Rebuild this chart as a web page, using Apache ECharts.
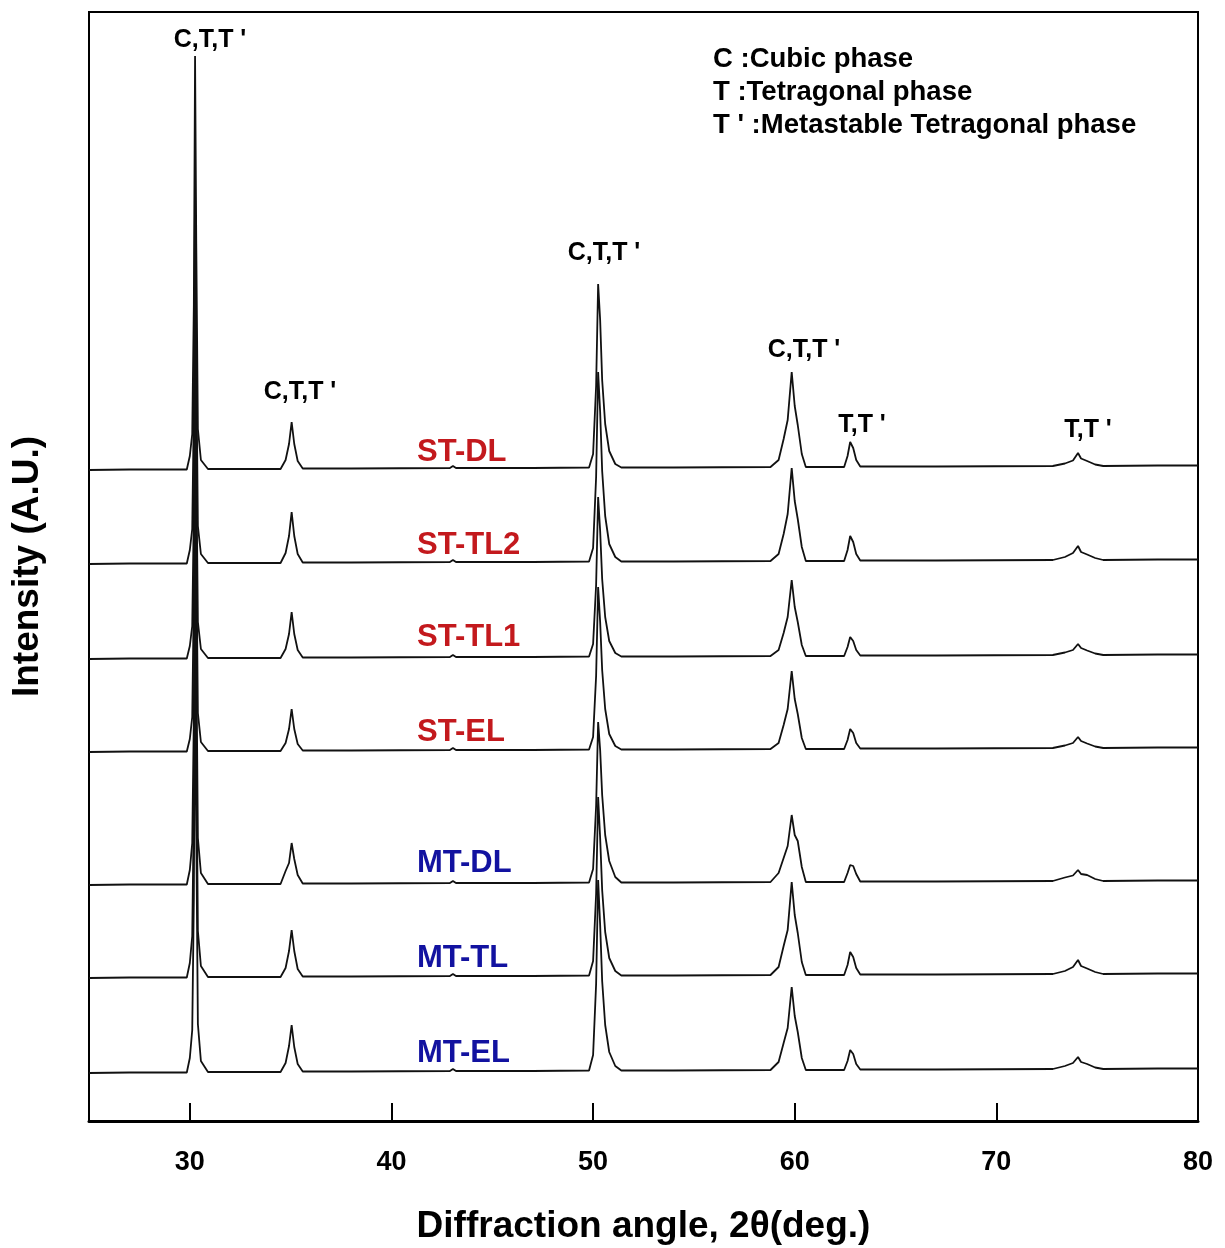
<!DOCTYPE html>
<html>
<head>
<meta charset="utf-8">
<script src="https://cdn.jsdelivr.net/npm/echarts@6/dist/echarts.min.js"></script>
<style>
  html, body { margin: 0; padding: 0; background: #fff; }
  #chart { width: 1225px; height: 1248px; }
</style>
</head>
<body>
<div id="chart"></div>
<script>
// 2θ sample positions (deg.), shared by all patterns
const twoTheta = [
  25.0, 27.0, 29.0, 29.85, 30.0, 30.12, 30.2, 30.26, 30.32, 30.4, 30.55, 30.9,
  33.0, 34.5, 34.75, 34.92, 35.05, 35.18, 35.35, 35.6,
  38.0, 42.9, 43.05, 43.2, 47.0,
  49.8, 50.0, 50.15, 50.25, 50.35, 50.45, 50.6, 50.8, 51.1, 51.4,
  54.0, 58.8, 59.2, 59.45, 59.65, 59.85, 60.0, 60.15, 60.35, 60.55,
  61.5, 62.45, 62.62, 62.75, 62.9, 63.05, 63.25,
  67.0, 72.8, 73.4, 73.8, 74.05, 74.2, 74.5, 74.9, 75.3, 78.0, 80.0
];

const sampleNames = ['ST-DL', 'ST-TL2', 'ST-TL1', 'ST-EL', 'MT-DL', 'MT-TL', 'MT-EL'];
const sampleColors = ['#c3191d', '#c3191d', '#c3191d', '#c3191d', '#1212a0', '#1212a0', '#1212a0'];
// vertical stacking offset of each pattern (a.u.)
const offsets = [651, 557, 462, 369, 236, 143, 48];

// intensity above offset (a.u.)
const stDL = [
  0, 0.5, 0.5, 0.5, 14, 36, 166, 414, 226, 41, 10, 1,
  1, 1, 10, 26, 48, 26, 9, 1.5,
  1.5, 2, 4, 2, 2,
  2.5, 16, 84, 186, 150, 90, 46, 19, 6, 2.5,
  2.5, 3, 10, 31, 50, 98, 64, 45, 16, 3,
  3, 3, 14, 28, 22, 10, 3.5,
  3.5, 4, 6.5, 9.5, 17, 11.5, 9, 5.5, 4, 4.5, 4.5
];
const stTL2 = [
  0, 0.5, 0.5, 0.5, 14, 35, 156, 376, 206, 38, 10, 1,
  1, 1, 11, 28, 52, 28, 10, 1.5,
  1.5, 2, 4, 2, 2,
  2.5, 16, 87, 192, 152, 93, 48, 20, 7, 2.5,
  2.5, 3, 10, 30, 50, 96, 63, 45, 17, 3,
  3, 3, 14, 28, 22, 10, 3.5,
  3.5, 4, 7, 11, 18, 12, 9.5, 6, 4, 4.5, 4.5
];
const stTL1 = [
  0, 0.5, 0.5, 0.5, 13, 33, 148, 359, 198, 37, 10, 1,
  1, 1, 10, 25, 47, 25, 9, 1.5,
  1.5, 2, 4, 2, 2,
  2.5, 15, 74, 162, 128, 80, 42, 18, 6, 2.5,
  2.5, 3, 9, 26, 42, 79, 52, 37, 14, 3,
  3, 3, 12, 22, 18, 9, 3.5,
  3.5, 4, 6.5, 9, 15, 11, 8.5, 5.5, 4, 4.5, 4.5
];
const stEL = [
  0, 0.5, 0.5, 0.5, 13, 35, 158, 382, 208, 39, 10, 1,
  1, 1, 9, 23, 43, 23, 8, 1.5,
  1.5, 2, 4, 2, 2,
  2.5, 15, 76, 165, 130, 82, 43, 18, 6, 2.5,
  2.5, 3, 9, 27, 43, 81, 53, 38, 14, 3,
  3, 3, 12, 23, 19, 9, 3.5,
  3.5, 4, 6.5, 9, 15, 11, 8.5, 5.5, 4, 4.5, 4.5
];
const mtDL = [
  0, 0.5, 0.5, 0.5, 15, 42, 168, 425, 238, 47, 12, 1,
  1, 1, 14, 22, 42, 26, 10, 1.5,
  1.5, 2, 4, 2, 2,
  2.5, 16, 79, 163, 135, 90, 50, 24, 8, 2.5,
  2.5, 3, 12, 27, 39, 70, 50, 44, 18, 3,
  3, 3, 12, 20, 19, 11, 3.5,
  3.5, 4, 7.5, 9.5, 15, 11, 10, 6, 4, 4.5, 4.5
];
const mtTL = [
  0, 0.5, 0.5, 0.5, 15, 42, 172, 438, 242, 47, 12, 1,
  1, 1, 10, 27, 48, 27, 9, 1.5,
  1.5, 2, 4, 2, 2,
  2.5, 17, 84, 181, 140, 88, 46, 20, 7, 2.5,
  2.5, 3, 11, 32, 48, 96, 63, 45, 16, 3,
  3, 3, 13, 26, 21, 10, 3.5,
  3.5, 4, 7, 11, 18, 12, 9.5, 6, 4, 4.5, 4.5
];
const mtEL = [
  0, 0.5, 0.5, 0.5, 15, 43, 175, 433, 242, 49, 12, 1,
  1, 1, 10, 27, 48, 26, 9, 1.5,
  1.5, 2, 4, 2, 2,
  2.5, 18, 89, 193, 148, 92, 48, 21, 7, 2.5,
  2.5, 3, 11, 30, 45, 86, 57, 41, 15, 3,
  3, 3, 12, 23, 19, 9, 3.5,
  3.5, 4, 7, 10, 16, 11, 9, 5.5, 4, 4.5, 4.5
];
const patterns = [stDL, stTL2, stTL1, stEL, mtDL, mtTL, mtEL];

const xTicks = [30, 40, 50, 60, 70, 80];

const FONT = '"Liberation Sans", Arial, sans-serif';

const chart = echarts.init(document.getElementById('chart'));

const series = patterns.map((vals, k) => ({
  name: sampleNames[k],
  type: 'line',
  showSymbol: false,
  animation: false,
  lineStyle: { color: '#111', width: 1.8 },
  data: twoTheta.map((x, i) => [x, offsets[k] + vals[i]])
}));

function txt(text, x, y, size, color, align) {
  return {
    type: 'text',
    x: x,
    y: y,
    z: 100,
    style: {
      text: text,
      font: 'bold ' + size + 'px ' + FONT,
      fill: color || '#000',
      textAlign: align || 'center',
      textVerticalAlign: 'middle'
    }
  };
}

const graphics = [
  txt("C,T,T '", 210, 40, 25),
  txt("C,T,T '", 300, 392, 25),
  txt("C,T,T '", 604, 253, 25),
  txt("C,T,T '", 804, 350, 25),
  txt("T,T '", 862, 425, 25),
  txt("T,T '", 1088, 430, 25),
  txt('C :Cubic phase', 713, 59, 27.5, '#000', 'left'),
  txt('T :Tetragonal phase', 713, 92, 27.5, '#000', 'left'),
  txt("T ' :Metastable Tetragonal phase", 713, 125, 27.5, '#000', 'left')
];
const labelY = [452, 545, 637, 732, 863, 958, 1053];
sampleNames.forEach((n, k) => {
  graphics.push(txt(n, 417, labelY[k], 31, sampleColors[k], 'left'));
});

chart.setOption({
  animation: false,
  backgroundColor: '#fff',
  grid: {
    left: 89, right: 27, top: 12, bottom: 127,
    outerBoundsMode: 'none',
    show: true, borderColor: '#000', borderWidth: 2, backgroundColor: 'transparent'
  },
  xAxis: {
    type: 'value',
    min: 25,
    max: 80,
    name: 'Diffraction angle, 2θ(deg.)',
    nameLocation: 'middle',
    nameGap: 87,
    nameTextStyle: { fontFamily: FONT, fontWeight: 'bold', fontSize: 37, color: '#000' },
    axisLine: { show: true, lineStyle: { color: '#000', width: 3 } },
    axisTick: { show: true, inside: true, length: 18, customValues: xTicks, lineStyle: { color: '#000', width: 2 } },
    axisLabel: { customValues: xTicks, margin: 28, fontFamily: FONT, fontWeight: 'bold', fontSize: 27, color: '#000' },
    splitLine: { show: false }
  },
  yAxis: {
    type: 'value',
    min: 0,
    max: 1109,
    name: 'Intensity (A.U.)',
    nameLocation: 'middle',
    nameRotate: 90,
    nameGap: 43,
    nameTextStyle: { fontFamily: FONT, fontWeight: 'bold', fontSize: 37, color: '#000' },
    axisLine: { show: true, lineStyle: { color: '#000', width: 2 } },
    axisTick: { show: false },
    axisLabel: { show: false },
    splitLine: { show: false }
  },
  series: series,
  graphic: graphics
});
</script>
</body>
</html>
